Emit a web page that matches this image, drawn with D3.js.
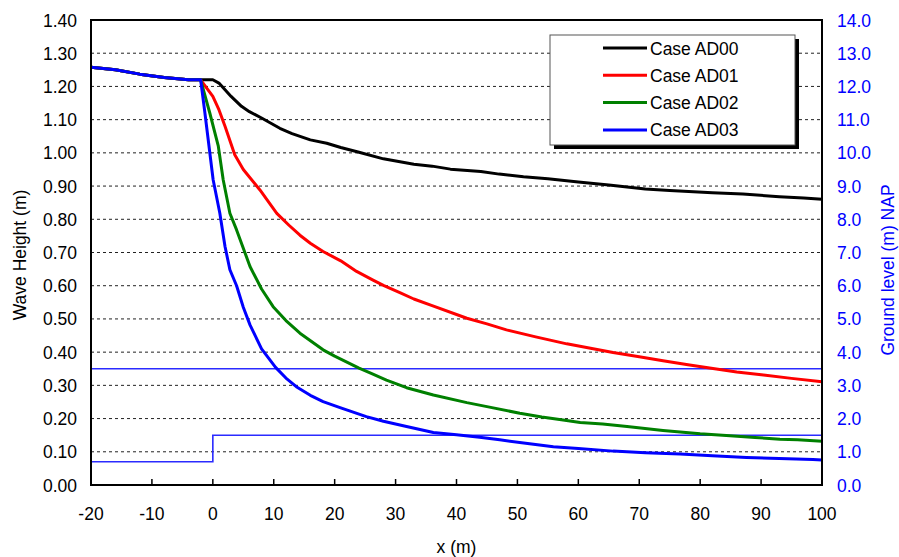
<!DOCTYPE html>
<head>
    <title>Wave height along x</title>
    <script src='https://d3js.org/d3.v7.min.js'></script>
    <style>
        body { margin: 0; background: #fff; }
        text { font-family: 'Liberation Sans', Arial, sans-serif; }
    </style>
</head>
<body>
    <svg></svg>
</body>

<script>
    // Data
    var caseNames = ['Case AD00', 'Case AD01', 'Case AD02', 'Case AD03'];
    var caseColors = ['#000000', '#ff0000', '#008000', '#0000ff'];

    var xAD00 = [-20, -16, -12, -8, -4, -2, 0, 1, 2, 3, 4.7, 6, 8, 11, 13, 16, 18.7, 21, 24, 28, 33, 36, 39, 44, 47, 51, 55, 60, 65, 71, 75, 82, 87, 93, 97, 100];
    var hAD00 = [1.258, 1.250, 1.237, 1.227, 1.220, 1.220, 1.220, 1.210, 1.190, 1.170, 1.140, 1.124, 1.105, 1.074, 1.058, 1.039, 1.029, 1.016, 1.002, 0.982, 0.966, 0.960, 0.951, 0.944, 0.936, 0.928, 0.922, 0.912, 0.903, 0.891, 0.887, 0.880, 0.876, 0.868, 0.864, 0.860];

    var xAD01 = [-20, -16, -12, -8, -4, -2, 0, 1, 2, 3.6, 5, 7.7, 10.5, 12.5, 14.3, 16, 18.1, 21, 23.6, 26.3, 28, 30.7, 33, 36, 41.7, 45, 48.2, 53, 58.1, 62, 65.7, 70, 73.9, 78, 82.1, 86, 90.4, 95, 100];
    var hAD01 = [1.258, 1.250, 1.237, 1.227, 1.220, 1.220, 1.170, 1.130, 1.080, 0.994, 0.950, 0.889, 0.818, 0.782, 0.752, 0.728, 0.703, 0.675, 0.643, 0.617, 0.601, 0.579, 0.560, 0.540, 0.502, 0.485, 0.467, 0.446, 0.425, 0.412, 0.399, 0.386, 0.374, 0.362, 0.351, 0.340, 0.331, 0.321, 0.311];

    var xAD02 = [-20, -16, -12, -8, -4, -2, -0.5, 0.9, 1.7, 2.8, 3.9, 6.1, 8, 9.9, 12, 14.3, 18.1, 20, 24, 26, 28.5, 31.8, 36.2, 41.7, 45, 50.4, 54, 57.5, 60.3, 64, 68, 73.9, 80, 84.9, 89, 93.1, 96, 100];
    var hAD02 = [1.258, 1.250, 1.237, 1.227, 1.220, 1.220, 1.120, 1.020, 0.919, 0.818, 0.768, 0.658, 0.590, 0.537, 0.495, 0.457, 0.407, 0.388, 0.352, 0.336, 0.316, 0.293, 0.271, 0.248, 0.236, 0.216, 0.205, 0.196, 0.188, 0.184, 0.176, 0.164, 0.154, 0.148, 0.143, 0.138, 0.136, 0.132];

    var xAD03 = [-20, -16, -12, -8, -4, -2, -1.3, 0.05, 1.15, 2, 2.8, 3.9, 5, 6.1, 8, 10.3, 12, 13.7, 16, 18.1, 21, 25.2, 28, 31.8, 36.2, 40, 43.8, 47.1, 52, 55.9, 60, 65.7, 71, 76.7, 82, 87.6, 93, 98.5, 100];
    var hAD03 = [1.258, 1.250, 1.237, 1.227, 1.220, 1.220, 1.120, 0.919, 0.818, 0.718, 0.648, 0.600, 0.535, 0.482, 0.410, 0.354, 0.322, 0.296, 0.270, 0.251, 0.232, 0.206, 0.192, 0.176, 0.158, 0.151, 0.144, 0.136, 0.124, 0.115, 0.110, 0.102, 0.097, 0.093, 0.088, 0.083, 0.080, 0.077, 0.075];

    // Ground level (right axis)
    var xGround = [-20, 0, 0, 100];
    var zGround = [0.7, 0.7, 1.5, 1.5];
    var xLevel = [-20, 100];
    var zLevel = [3.5, 3.5];

    var xTicks = [-20, -10, 0, 10, 20, 30, 40, 50, 60, 70, 80, 90, 100];
    var hTicks = d3.range(0, 15).map(function (i) { return i / 10; });
    var zTicks = d3.range(0, 15);

    var caseX = [xAD00, xAD01, xAD02, xAD03];
    var caseH = [hAD00, hAD01, hAD02, hAD03];

    var vWidth = 899, vHeight = 557;
    var m = { left: 91, right: 822, top: 20, bottom: 485 };

    var svg = d3.select('svg').attr('width', vWidth).attr('height', vHeight);

    var x = d3.scaleLinear().domain([-20, 100]).range([m.left, m.right]);
    var y = d3.scaleLinear().domain([0, 1.4]).range([m.bottom, m.top]);
    var yR = d3.scaleLinear().domain([0, 14]).range([m.bottom, m.top]);

    // Gridlines
    svg.append('g').selectAll('line')
        .data(hTicks.slice(1, -1)).enter().append('line')
        .attr('x1', m.left).attr('x2', m.right)
        .attr('y1', function (d) { return y(d); })
        .attr('y2', function (d) { return y(d); })
        .attr('stroke', '#222').attr('stroke-width', 1)
        .attr('stroke-dasharray', '3,3');

    // Ground level lines
    var lineZ = d3.line()
        .x(function (d) { return x(d[0]); })
        .y(function (d) { return yR(d[1]); });
    svg.append('path')
        .attr('d', lineZ(d3.zip(xGround, zGround)))
        .attr('fill', 'none').attr('stroke', '#2b2bff').attr('stroke-width', 1.6);
    svg.append('path')
        .attr('d', lineZ(d3.zip(xLevel, zLevel)))
        .attr('fill', 'none').attr('stroke', '#2b2bff').attr('stroke-width', 1.6);

    // Wave height curves
    var lineH = d3.line()
        .x(function (d) { return x(d[0]); })
        .y(function (d) { return y(d[1]); });
    caseNames.forEach(function (name, i) {
        svg.append('path')
            .attr('d', lineH(d3.zip(caseX[i], caseH[i])))
            .attr('fill', 'none')
            .attr('stroke', caseColors[i])
            .attr('stroke-width', 3)
            .attr('stroke-linejoin', 'round');
    });

    // Frame
    svg.append('rect')
        .attr('x', m.left).attr('y', m.top)
        .attr('width', m.right - m.left).attr('height', m.bottom - m.top)
        .attr('fill', 'none').attr('stroke', '#000').attr('stroke-width', 2);

    // X axis ticks (inside) and labels
    svg.append('g').selectAll('line')
        .data(xTicks).enter().append('line')
        .attr('x1', function (d) { return x(d); })
        .attr('x2', function (d) { return x(d); })
        .attr('y1', m.bottom).attr('y2', m.bottom - 6)
        .attr('stroke', '#000').attr('stroke-width', 1.5);
    svg.append('g').selectAll('text')
        .data(xTicks).enter().append('text')
        .attr('x', function (d) { return x(d); })
        .attr('y', 520)
        .attr('text-anchor', 'middle')
        .attr('font-size', 17.5)
        .text(function (d) { return d; });

    // Left axis labels
    svg.append('g').selectAll('text')
        .data(hTicks).enter().append('text')
        .attr('x', 77)
        .attr('y', function (d) { return y(d) + 6.5; })
        .attr('text-anchor', 'end')
        .attr('font-size', 17.5)
        .text(function (d) { return d.toFixed(2); });

    // Right axis labels
    svg.append('g').selectAll('text')
        .data(zTicks).enter().append('text')
        .attr('x', 837)
        .attr('y', function (d) { return yR(d) + 6.5; })
        .attr('font-size', 17.5)
        .attr('fill', '#0000ff')
        .text(function (d) { return d.toFixed(1); });

    // Axis titles
    svg.append('text')
        .attr('x', (m.left + m.right) / 2).attr('y', 553)
        .attr('text-anchor', 'middle').attr('font-size', 17.5)
        .text('x (m)');
    svg.append('text')
        .attr('transform', 'translate(26,' + 255 + ') rotate(-90)')
        .attr('text-anchor', 'middle').attr('font-size', 17.5)
        .text('Wave Height (m)');
    svg.append('text')
        .attr('transform', 'translate(894,' + 270 + ') rotate(-90)')
        .attr('text-anchor', 'middle').attr('font-size', 17.5)
        .attr('fill', '#0000ff')
        .text('Ground level (m) NAP');

    // Legend
    var lg = svg.append('g');
    lg.append('rect')
        .attr('x', 554).attr('y', 39).attr('width', 245).attr('height', 110)
        .attr('fill', '#000');
    lg.append('rect')
        .attr('x', 550).attr('y', 35).attr('width', 245).attr('height', 110)
        .attr('fill', '#fff').attr('stroke', '#555').attr('stroke-width', 1);
    caseNames.forEach(function (name, i) {
        var cy = 48 + i * 27.3;
        lg.append('line')
            .attr('x1', 603).attr('x2', 647)
            .attr('y1', cy).attr('y2', cy)
            .attr('stroke', caseColors[i]).attr('stroke-width', 3);
        lg.append('text')
            .attr('x', 650).attr('y', cy + 6.5)
            .attr('font-size', 17.5)
            .text(name);
    });
</script>
